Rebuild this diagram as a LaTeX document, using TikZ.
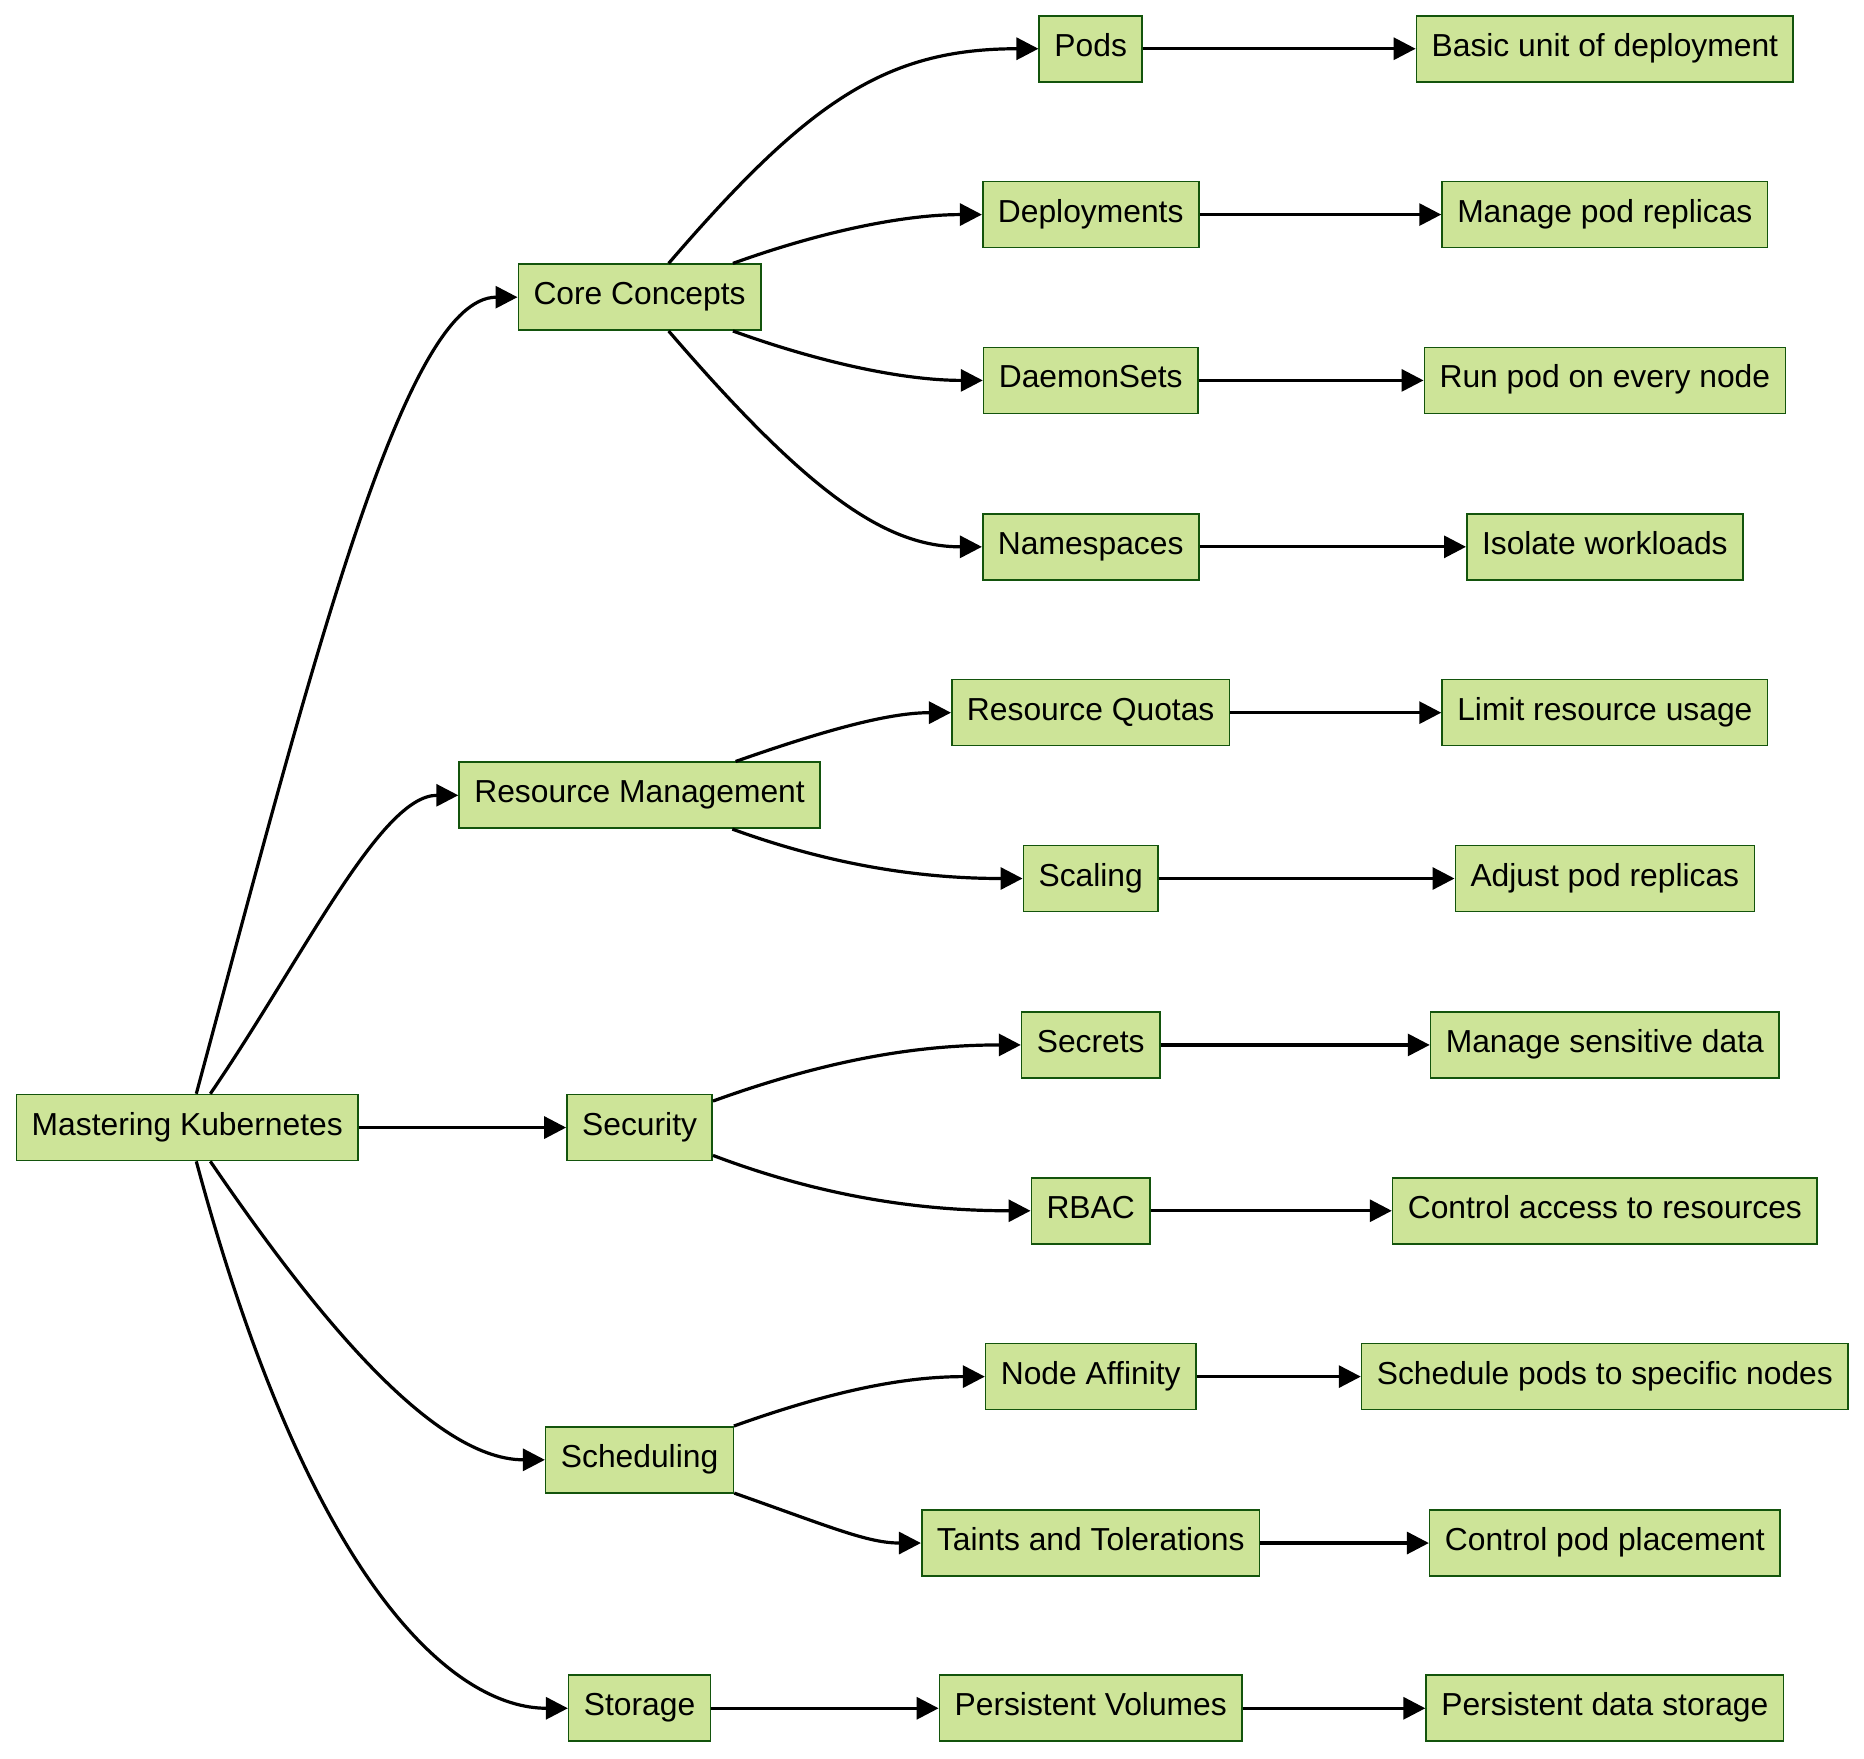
\documentclass[tikz,border=0pt]{standalone}
\usepackage{fontspec}
\setmainfont{Liberation Sans}
\usetikzlibrary{arrows.meta}
\definecolor{boxfill}{HTML}{CDE498}
\definecolor{boxline}{HTML}{13540C}
\begin{document}
\begin{tikzpicture}[x=0.5944pt,y=-0.5944pt,
  box/.style={draw=boxline,line width=0.8pt,fill=boxfill,minimum height=33pt,inner xsep=7.6pt,inner ysep=0pt,text height=11.5pt,text depth=4pt,font=\fontsize{15.9pt}{18pt}\selectfont,text=black},
  link/.style={line width=1.6pt,-{Triangle[length=11pt,width=11pt]}}]
\useasboundingbox[fill=white] (0,0) rectangle (1568,1479);
% level 0
\node[box] (root) at (157.5,948.5) {Mastering Kubernetes};
% level 1
\node[box] (core) at (538,250) {Core Concepts};
\node[box] (res) at (538,669) {Resource Management};
\node[box] (sec) at (538,948.5) {Security};
\node[box] (sch) at (538,1228) {Scheduling};
\node[box] (sto) at (538,1437) {Storage};
% level 2
\node[box] (pods) at (917.5,41) {Pods};
\node[box] (dep) at (917.5,180.5) {Deployments};
\node[box] (dae) at (917.5,320) {DaemonSets};
\node[box] (ns) at (917.5,460) {Namespaces};
\node[box] (rq) at (917.5,599.5) {Resource Quotas};
\node[box] (scal) at (917.5,739) {Scaling};
\node[box] (secr) at (917.5,879) {Secrets};
\node[box] (rbac) at (917.5,1018.5) {RBAC};
\node[box] (na) at (917.5,1158) {Node Affinity};
\node[box] (tt) at (917.5,1298) {Taints and Tolerations};
\node[box] (pv) at (917.5,1437) {Persistent Volumes};
% level 3
\node[box] (d1) at (1350,41) {Basic unit of deployment};
\node[box] (d2) at (1350,180.5) {Manage pod replicas};
\node[box] (d3) at (1350,320) {Run pod on every node};
\node[box] (d4) at (1350,460) {Isolate workloads};
\node[box] (d5) at (1350,599.5) {Limit resource usage};
\node[box] (d6) at (1350,739) {Adjust pod replicas};
\node[box] (d7) at (1350,879) {Manage sensitive data};
\node[box] (d8) at (1350,1018.5) {Control access to resources};
\node[box] (d9) at (1350,1158) {Schedule pods to specific nodes};
\node[box] (d10) at (1350,1298) {Control pod placement};
\node[box] (d11) at (1350,1437) {Persistent data storage};
% root edges
\draw[link] (root) .. controls (262,560) and (340,250) .. (core.west);
\draw[link] (root) .. controls (255,806) and (320,669) .. (res.west);
\draw[link] (root) -- (sec);
\draw[link] (root) .. controls (255,1091) and (360,1228) .. (sch.west);
\draw[link] (root) .. controls (262,1337) and (383,1437) .. (sto.west);
% level1 -> level2
\draw[link] (core) .. controls (680,85) and (745,41) .. (pods.west);
\draw[link] (core) .. controls (690,195) and (760,180.5) .. (dep.west);
\draw[link] (core) .. controls (690,305) and (760,320) .. (dae.west);
\draw[link] (core) .. controls (680,415) and (745,460) .. (ns.west);
\draw[link] (res) .. controls (700,612) and (750,599.5) .. (rq.west);
\draw[link] (res) .. controls (700,728) and (775,739) .. (scal.west);
\draw[link] (sec) .. controls (700,890) and (775,879) .. (secr.west);
\draw[link] (sec) .. controls (700,1010) and (785,1018.5) .. (rbac.west);
\draw[link] (sch) .. controls (700,1170) and (760,1158) .. (na.west);
\draw[link] (sch) .. controls (700,1285) and (730,1298) .. (tt.west);
\draw[link] (sto) -- (pv);
% level2 -> level3
\draw[link] (pods) -- (d1);
\draw[link] (dep) -- (d2);
\draw[link] (dae) -- (d3);
\draw[link] (ns) -- (d4);
\draw[link] (rq) -- (d5);
\draw[link] (scal) -- (d6);
\draw[link] (secr) -- (d7);
\draw[link] (rbac) -- (d8);
\draw[link] (na) -- (d9);
\draw[link] (tt) -- (d10);
\draw[link] (pv) -- (d11);
\end{tikzpicture}
\end{document}
